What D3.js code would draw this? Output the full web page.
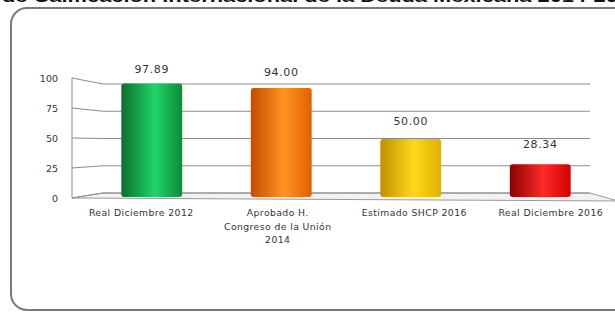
<!DOCTYPE html>
<meta charset="utf-8">
<title>Deuda</title>
<style>
html, body { margin: 0; padding: 0; background: #fff; }
svg { display: block; }
text { font-family: "DejaVu Sans", Verdana, sans-serif; fill: #333; }
.grid line, .wall line { stroke: #8c8c8c; stroke-width: 1; }
</style>
<body>
<svg width="615" height="312"></svg>
<script src="https://cdn.jsdelivr.net/npm/d3@7"></script>
<script>

var categories = [
  ["Real Diciembre 2012"],
  ["Aprobado H.", "Congreso de la Unión", "2014"],
  ["Estimado SHCP 2016"],
  ["Real Diciembre 2016"]
];
var values = [97.89, 94.00, 50.00, 28.34];
var valueLabels = ["97.89", "94.00", "50.00", "28.34"];
var ticks = [0, 25, 50, 75, 100];

var colors = [
  ["#0b6e2c", "#1fd56a", "#0c8a36"],
  ["#c44b00", "#ff9420", "#e06000"],
  ["#c09000", "#ffd81a", "#e0b000"],
  ["#8c0000", "#ff2a2a", "#d20000"]
];

var svg = d3.select("svg");

// cropped title at the very top
svg.append("text")
  .attr("x", 2).attr("y", 2)
  .attr("textLength", 640).attr("lengthAdjust", "spacingAndGlyphs")
  .style("font-family", "Liberation Sans, Arial, sans-serif")
  .style("font-weight", "bold").style("font-size", "16px")
  .style("fill", "#111")
  .text("de Calificación Internacional de la Deuda Mexicana 2014-2016");

// frame
svg.append("rect")
  .attr("x", 11).attr("y", 8).attr("width", 640).attr("height", 302)
  .attr("rx", 16)
  .attr("fill", "#fff")
  .attr("stroke", "#7a7a7a").attr("stroke-width", 2);

var defs = svg.append("defs");
colors.forEach(function(c, i) {
  var g = defs.append("linearGradient").attr("id", "g" + i)
    .attr("x1", 0).attr("x2", 1).attr("y1", 0).attr("y2", 0);
  g.append("stop").attr("offset", "0%").attr("stop-color", c[0]);
  g.append("stop").attr("offset", "55%").attr("stop-color", c[1]);
  g.append("stop").attr("offset", "100%").attr("stop-color", c[2]);
});

// scales: front edge, back wall, bars
var yFront = d3.scaleLinear().domain([0, 100]).range([198, 78]);
var yBack = d3.scaleLinear().domain([0, 100]).range([193, 84]);
var yBar = d3.scaleLinear().domain([0, 100]).range([197, 81]);

var wallX0 = 72, wallX1 = 103, backEnd = 590;

var xBar = d3.scaleBand().domain(d3.range(values.length))
  .range([87, 605]).paddingInner(0.53).paddingOuter(0.265);
var xLab = d3.scaleBand().domain(d3.range(values.length)).range([73, 619]);

// floor
svg.append("path")
  .attr("d", "M" + wallX0 + "," + yFront(0) + "L" + wallX1 + "," + yBack(0) +
    "L" + backEnd + "," + yBack(0) + "L618," + (yFront(0) + 3) + "Z")
  .attr("fill", "#f2f2f2").attr("stroke", "#9a9a9a");

// back wall gridlines and left wall
var grid = svg.append("g").attr("class", "grid");
grid.selectAll("line.b").data(ticks).enter().append("line")
  .attr("x1", wallX1).attr("x2", backEnd)
  .attr("y1", function(d) { return yBack(d); })
  .attr("y2", function(d) { return yBack(d); });
grid.selectAll("line.w").data(ticks).enter().append("line")
  .attr("x1", wallX0).attr("x2", wallX1)
  .attr("y1", function(d) { return yFront(d); })
  .attr("y2", function(d) { return yBack(d); });
svg.append("g").attr("class", "wall").append("line")
  .attr("x1", wallX0).attr("x2", wallX0)
  .attr("y1", yFront(100)).attr("y2", yFront(0));

// y tick labels
svg.selectAll("text.tick").data(ticks).enter().append("text")
  .attr("class", "tick")
  .attr("x", 58)
  .attr("y", function(d) { return yFront(d) + 3.5; })
  .attr("text-anchor", "end")
  .style("font-size", "9.5px")
  .text(function(d) { return d; });

// bars
svg.selectAll("rect.bar").data(values).enter().append("rect")
  .attr("class", "bar")
  .attr("x", function(d, i) { return xBar(i); })
  .attr("width", xBar.bandwidth())
  .attr("y", function(d) { return yBar(d); })
  .attr("height", function(d) { return yBar(0) - yBar(d); })
  .attr("rx", 3)
  .attr("fill", function(d, i) { return "url(#g" + i + ")"; });

// value labels
svg.selectAll("text.val").data(values).enter().append("text")
  .attr("class", "val")
  .attr("x", function(d, i) { return xBar(i) + xBar.bandwidth() / 2; })
  .attr("y", function(d, i) { return yBar(d) - 10 - i * 2; })
  .attr("text-anchor", "middle")
  .style("font-size", "11px").style("letter-spacing", "0.6px")
  .text(function(d, i) { return valueLabels[i]; });

// category labels
var cat = svg.selectAll("text.cat").data(categories).enter().append("text")
  .attr("class", "cat")
  .attr("text-anchor", "middle")
  .style("font-size", "9.3px").style("letter-spacing", "0.4px");
cat.selectAll("tspan").data(function(d, i) { return d.map(function(s) { return [s, i]; }); })
  .enter().append("tspan")
  .attr("x", function(d) { return xLab(d[1]) + xLab.bandwidth() / 2; })
  .attr("y", function(d, j) { return 216 + j * 13.5; })
  .text(function(d) { return d[0]; });

</script>
</body>
